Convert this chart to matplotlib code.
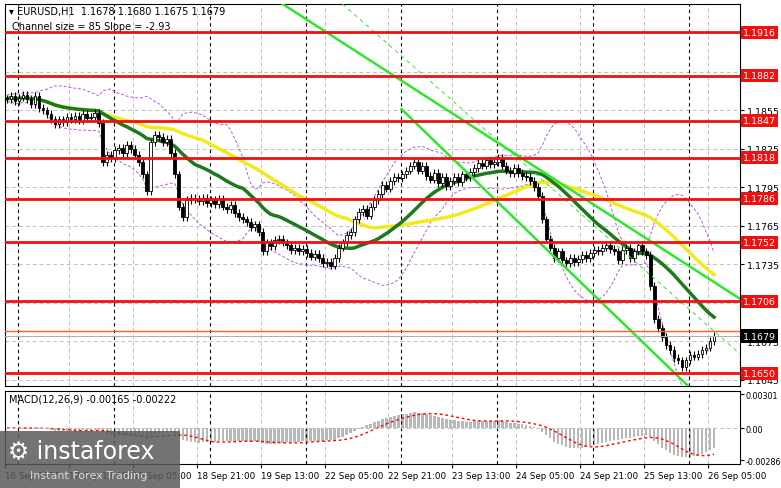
import numpy as np
import pandas as pd
import matplotlib.pyplot as plt
import matplotlib.transforms as mtrans
from matplotlib.patches import Rectangle

# hourly closes, 16 bars per row
closes = [
    1.1864, 1.1866, 1.1862, 1.1865, 1.1867, 1.1864, 1.1860, 1.1866, 1.1857, 1.1855, 1.1852, 1.1848, 1.1844, 1.1848, 1.1846, 1.1850,
    1.1848, 1.1851, 1.1847, 1.1852, 1.1849, 1.1850, 1.1853, 1.1845, 1.1815, 1.1820, 1.1818, 1.1824, 1.1826, 1.1822, 1.1828, 1.1825,
    1.1820, 1.1815, 1.1805, 1.1792, 1.1830, 1.1836, 1.1834, 1.1830, 1.1833, 1.1822, 1.1805, 1.1780, 1.1772, 1.1785, 1.1787, 1.1786,
    1.1784, 1.1787, 1.1783, 1.1785, 1.1782, 1.1786, 1.1780, 1.1778, 1.1781, 1.1775, 1.1772, 1.1770, 1.1768, 1.1764, 1.1766, 1.1760,
    1.1745, 1.1752, 1.1749, 1.1754, 1.1755, 1.1752, 1.1750, 1.1746, 1.1748, 1.1745, 1.1747, 1.1744, 1.1741, 1.1743, 1.1740, 1.1736,
    1.1737, 1.1734, 1.1740, 1.1748, 1.1752, 1.1758, 1.1760, 1.1770, 1.1776, 1.1778, 1.1773, 1.1780, 1.1785, 1.1790, 1.1797, 1.1794,
    1.1800, 1.1803, 1.1802, 1.1805, 1.1808, 1.1812, 1.1815, 1.1808, 1.1812, 1.1804, 1.1801, 1.1806, 1.1798, 1.1803, 1.1796, 1.1800,
    1.1803, 1.1799, 1.1805, 1.1803, 1.1807, 1.1810, 1.1814, 1.1812, 1.1816, 1.1813, 1.1815, 1.1818, 1.1812, 1.1808, 1.1806, 1.1810,
    1.1806, 1.1804, 1.1803, 1.1800, 1.1795, 1.1788, 1.1770, 1.1755, 1.1748, 1.1740, 1.1745, 1.1738, 1.1736, 1.1740, 1.1737, 1.1739,
    1.1742, 1.1740, 1.1744, 1.1746, 1.1745, 1.1748, 1.1750, 1.1747, 1.1745, 1.1738, 1.1746, 1.1748, 1.1740, 1.1745, 1.1750, 1.1745,
    1.1742, 1.1718, 1.1692, 1.1685, 1.1678, 1.1672, 1.1668, 1.1662, 1.1660, 1.1655, 1.1660, 1.1664, 1.1663, 1.1665, 1.1668, 1.1670,
    1.1675, 1.1679,
]
levels = [1.1916, 1.1882, 1.1847, 1.1818, 1.1786, 1.1752, 1.1706, 1.1650]
price_ticks = [1.1855, 1.1825, 1.1795, 1.1765, 1.1735, 1.1675, 1.1645]
date_labels = ["16 Sep 2025", "17 Sep 13:00", "18 Sep 05:00", "18 Sep 21:00", "19 Sep 13:00",
               "22 Sep 05:00", "22 Sep 21:00", "23 Sep 13:00", "24 Sep 05:00", "24 Sep 21:00",
               "25 Sep 13:00", "26 Sep 05:00"]
day_breaks = [2.75, 26.75, 50.75, 74.75, 98.75, 122.75, 146.75, 170.75]
# channel lines: (bar, price) endpoints
channel_upper = [(69, 1.1938), (183.5, 1.1708)]
channel_lower = [(98.75, 1.1856), (170.5, 1.1640)]
channel_mid = [(84, 1.1938), (183.5, 1.1665)]

s = pd.Series(closes)
opens = s.shift(1).fillna(s.iloc[0])
n = len(s)
idx = np.arange(n)
ma_fast = s.rolling(24, min_periods=1).mean()
ma_slow = s.rolling(50, min_periods=1).mean()
bb_mid = s.rolling(20, min_periods=1).mean()
bb_std = s.rolling(20, min_periods=2).std().bfill()
macd = s.ewm(span=12).mean() - s.ewm(span=26).mean()
signal = macd.rolling(9, min_periods=1).mean()

fig = plt.figure(figsize=(7.81, 4.89), dpi=100)
ax = fig.add_axes([5/781, 1-387/489, 735/781, 382/489])
axm = fig.add_axes([5/781, 1-465/489, 735/781, 73/489])
xlim = (-0.5, 183.5)

for a in (ax, axm):
    a.set_xlim(*xlim)
    a.yaxis.tick_right()
    a.tick_params(axis="y", labelsize=6.8, length=3, pad=2)
    for sp in a.spines.values():
        sp.set_color("black")
    for x in day_breaks:
        a.axvline(x, color="black", ls=(0, (3, 3)), lw=0.8)
    for k in range(1, len(date_labels)):
        a.axvline(-0.5 + 16*k, color="#c0c0c0", ls=(0, (4, 3)), lw=0.7, zorder=0)

ax.set_ylim(1.1640, 1.1938)
ax.set_yticks(price_ticks)
ax.set_yticklabels([f"{p:.4f}" for p in price_ticks])
ax.set_xticks([])
for p in price_ticks + [1.1885, 1.1915, 1.1705]:
    ax.axhline(p, color="#c0c0c0", ls=(0, (4, 3)), lw=0.7, zorder=0)

# bollinger envelope
ax.plot(idx, bb_mid + 2*bb_std, color="#b45ad6", ls=(0, (3, 2)), lw=0.7)
ax.plot(idx, bb_mid - 2*bb_std, color="#b45ad6", ls=(0, (3, 2)), lw=0.7)
ax.plot(idx, ma_slow, color="#f2ea1c", lw=2.5)
ax.plot(idx, ma_fast, color="#1c7a1c", lw=2.5)

# candles
for i in range(n):
    o, c = opens[i], s[i]
    lo, hi = min(o, c), max(o, c)
    ax.vlines(i, lo - 0.0003, hi + 0.0003, color="black", lw=0.8, zorder=3)
    body = max(hi - lo, 0.00005)
    ax.bar(i, body, bottom=lo, width=0.7, color="white" if c >= o else "black",
           edgecolor="black", lw=0.6, zorder=4)

# channel
for line, st, w in [(channel_upper, "-", 1.8), (channel_lower, "-", 1.8), (channel_mid, (0, (4, 4)), 0.7)]:
    ax.plot([line[0][0], line[1][0]], [line[0][1], line[1][1]], color="#2ee62e", ls=st, lw=w, zorder=5)

tr = mtrans.blended_transform_factory(ax.transAxes, ax.transData)
for lv in levels:
    ax.axhline(lv, color="#f01010", lw=2, zorder=6)
    ax.text(1.004, lv, f"{lv:.4f}", transform=tr, fontsize=6.8, color="white", va="center", ha="left",
            clip_on=False, bbox=dict(boxstyle="square,pad=0.2", fc="#f01010", ec="none"))
ax.axhline(1.1683, color="#ff6020", lw=1, zorder=6)
ax.axhline(1.1679, color="#b0b0b0", lw=0.8, zorder=6)
ax.text(1.004, 1.1679, "1.1679", transform=tr, fontsize=6.8, color="white", va="center", ha="left",
        clip_on=False, bbox=dict(boxstyle="square,pad=0.25", fc="black", ec="none"), zorder=10)

ax.text(0.005, 0.995, "\u25be EURUSD,H1  1.1678 1.1680 1.1675 1.1679", transform=ax.transAxes,
        fontsize=7, va="top")
ax.text(0.01, 0.955, "Channel size = 85 Slope = -2.93", transform=ax.transAxes, fontsize=7, va="top")

# macd
axm.bar(idx, macd, width=0.6, color="#b8b8b8")
axm.plot(idx, signal, color="red", ls=(0, (2, 2)), lw=1)
axm.set_ylim(-0.0032, 0.0033)
axm.set_yticks([0.00301, 0.0, -0.00286])
axm.set_yticklabels(["0.00301", "0.00", "-0.00286"])
axm.tick_params(axis="y", labelsize=5.8, pad=1)
axm.axhline(0, color="#c0c0c0", ls=(0, (4, 3)), lw=0.7)
axm.text(0.005, 0.97, "MACD(12,26,9) -0.00165 -0.00222", transform=axm.transAxes, fontsize=7, va="top")
axm.set_xticks([-0.5 + 16*k for k in range(len(date_labels))])
axm.set_xticklabels(date_labels, fontsize=6.3)
axm.tick_params(axis="x", length=3, pad=2)
for lab in axm.get_xticklabels():
    lab.set_ha("left")

# watermark
fig.add_artist(Rectangle((0, 0), 180/781, 57/489, transform=fig.transFigure, fc="#5a5a5a", ec="none", alpha=0.85))
fig.text(8/781, 26/489, "\u2699 instaforex", fontsize=17, color="white", ha="left", va="bottom")
fig.text(30/781, 8/489, "Instant Forex Trading", fontsize=8, color="#dddddd", ha="left", va="bottom")

fig.savefig("out.png", dpi=100)
